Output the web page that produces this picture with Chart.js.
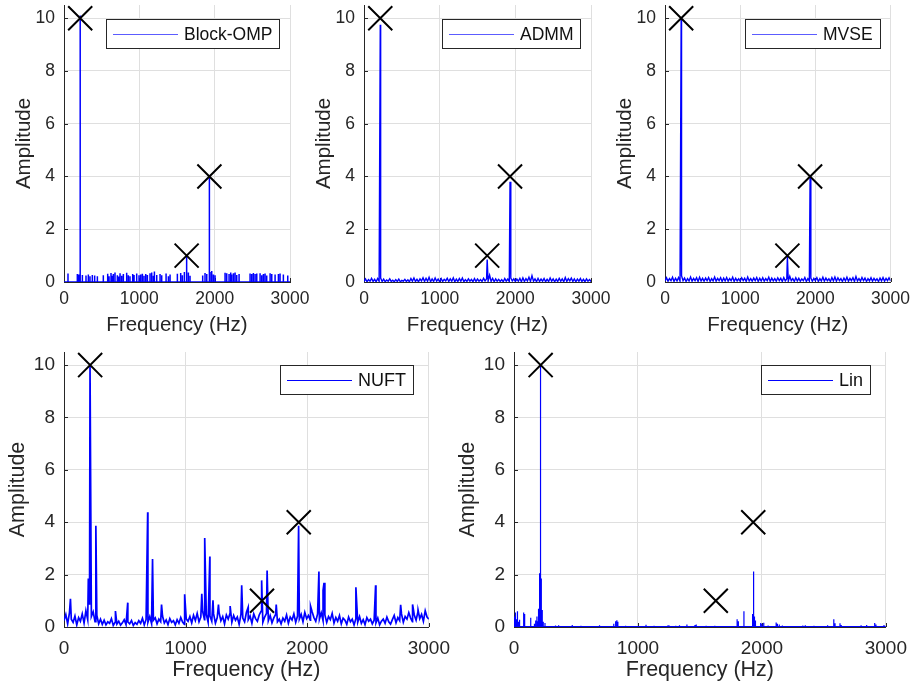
<!DOCTYPE html>
<html>
<head>
<meta charset="utf-8">
<script src="https://cdn.jsdelivr.net/npm/chart.js@4.4.1/dist/chart.umd.min.js"></script>
<style>
  html, body { margin: 0; padding: 0; background: #fff; }
  #wrap { position: relative; width: 917px; height: 693px; overflow: hidden; background: #fff; }
  canvas { position: absolute; }
</style>
</head>
<body>
<div id="wrap">
  <canvas id="cOmp"  width="320" height="340" style="left:0;top:0"></canvas>
  <canvas id="cAdmm" width="320" height="340" style="left:300px;top:0"></canvas>
  <canvas id="cMvse" width="316" height="340" style="left:601px;top:0"></canvas>
  <canvas id="cNuft" width="460" height="353" style="left:0;top:340px"></canvas>
  <canvas id="cLin"  width="467" height="353" style="left:450px;top:340px"></canvas>
</div>
<script>
// true tone positions (black crosses)
const targetHz  = [215, 1628, 1930];
const targetAmp = [10, 1, 4];

// Block-OMP: sparse stems, zero elsewhere
const ompPeakHz  = [215, 1628, 1930];
const ompPeakAmp = [10.1, 1.0, 4.0];
const ompHz = [53, 177, 195, 244, 292, 323, 345, 376, 407, 443,
  522, 580, 598, 624, 642, 655, 677, 708, 726, 744,
  766, 788, 832, 854, 876, 912, 930, 965, 996, 1018,
  1040, 1062, 1085, 1107, 1142, 1164, 1186, 1200, 1231, 1275,
  1297, 1355, 1386, 1408, 1505, 1549, 1571, 1598, 1651, 1673,
  1841, 1872, 1895, 1939, 1961, 1983, 2005, 2138, 2160, 2191,
  2213, 2226, 2249, 2271, 2293, 2324, 2470, 2492, 2514, 2537,
  2559, 2603, 2625, 2647, 2669, 2691, 2736, 2758, 2802, 2846,
  2868, 2912, 2970];
const ompAmp = [0.32, 0.30, 0.28, 0.27, 0.25, 0.28, 0.22, 0.27, 0.25, 0.22,
  0.26, 0.31, 0.22, 0.34, 0.24, 0.30, 0.36, 0.26, 0.21, 0.33,
  0.24, 0.30, 0.35, 0.26, 0.22, 0.30, 0.27, 0.32, 0.26, 0.28,
  0.31, 0.24, 0.30, 0.27, 0.33, 0.36, 0.24, 0.40, 0.27, 0.30,
  0.26, 0.32, 0.22, 0.28, 0.31, 0.34, 0.26, 0.38, 0.36, 0.24,
  0.25, 0.34, 0.30, 0.38, 0.42, 0.28, 0.26, 0.35, 0.33, 0.30,
  0.36, 0.28, 0.33, 0.36, 0.27, 0.30, 0.32, 0.30, 0.34, 0.30,
  0.32, 0.33, 0.26, 0.30, 0.32, 0.25, 0.33, 0.30, 0.28, 0.30,
  0.32, 0.28, 0.25];

// ADMM: noise floor sampled every 20 Hz + peaks
const admmStep = 20;
const admmNoise = [
  0.02, 0.12, 0.01, 0.09, 0.03, 0.14, 0.02, 0.10, 0.01, 0.13,
  0.03, 0.15, 0.02, 0.11, 0.01, 0.08, 0.03, 0.12, 0.02, 0.07,
  0.01, 0.09, 0.02, 0.11, 0.01, 0.06, 0.03, 0.10, 0.02, 0.08,
  0.01, 0.13, 0.03, 0.15, 0.02, 0.10, 0.01, 0.12, 0.04, 0.16,
  0.02, 0.14, 0.03, 0.18, 0.01, 0.12, 0.02, 0.15, 0.03, 0.11,
  0.01, 0.13, 0.02, 0.10, 0.04, 0.14, 0.02, 0.12, 0.03, 0.16,
  0.01, 0.11, 0.02, 0.13, 0.03, 0.15, 0.01, 0.09, 0.02, 0.12,
  0.03, 0.10, 0.01, 0.13, 0.02, 0.11, 0.03, 0.09, 0.02, 0.14,
  0.04, 0.12, 0.03, 0.26, 0.02, 0.14, 0.01, 0.12, 0.03, 0.10,
  0.02, 0.09, 0.01, 0.13, 0.03, 0.11, 0.02, 0.15, 0.04, 0.12,
  0.02, 0.11, 0.03, 0.14, 0.01, 0.16, 0.02, 0.13, 0.04, 0.18,
  0.02, 0.24, 0.03, 0.12, 0.01, 0.14, 0.02, 0.11, 0.03, 0.13,
  0.01, 0.10, 0.02, 0.15, 0.03, 0.12, 0.01, 0.11, 0.02, 0.14,
  0.03, 0.12, 0.01, 0.17, 0.02, 0.13, 0.04, 0.15, 0.02, 0.12,
  0.01, 0.11, 0.03, 0.13, 0.02, 0.10, 0.01, 0.12, 0.03, 0.09,
  0.02];
const admmPeakHz  = [215, 1628, 1930];
const admmPeakAmp = [9.75, 0.85, 3.8];

// MVSE
const mvseStep = 20;
const mvseNoise = [
  0.04, 0.16, 0.03, 0.13, 0.05, 0.18, 0.02, 0.14, 0.04, 0.17,
  0.03, 0.24, 0.05, 0.15, 0.02, 0.13, 0.04, 0.19, 0.03, 0.14,
  0.05, 0.16, 0.02, 0.18, 0.04, 0.14, 0.03, 0.15, 0.05, 0.17,
  0.02, 0.13, 0.04, 0.19, 0.03, 0.14, 0.05, 0.16, 0.02, 0.15,
  0.04, 0.17, 0.03, 0.13, 0.05, 0.18, 0.02, 0.14, 0.04, 0.12,
  0.03, 0.16, 0.05, 0.14, 0.02, 0.19, 0.04, 0.13, 0.03, 0.15,
  0.05, 0.17, 0.02, 0.14, 0.04, 0.16, 0.03, 0.13, 0.05, 0.18,
  0.02, 0.15, 0.04, 0.13, 0.03, 0.16, 0.05, 0.14, 0.02, 0.17,
  0.04, 0.12, 0.03, 0.22, 0.05, 0.13, 0.02, 0.16, 0.04, 0.14,
  0.03, 0.12, 0.05, 0.17, 0.02, 0.13, 0.04, 0.15, 0.03, 0.14,
  0.05, 0.16, 0.02, 0.13, 0.04, 0.18, 0.03, 0.15, 0.05, 0.12,
  0.02, 0.17, 0.04, 0.19, 0.03, 0.16, 0.05, 0.13, 0.02, 0.15,
  0.04, 0.18, 0.03, 0.14, 0.05, 0.16, 0.02, 0.21, 0.04, 0.13,
  0.03, 0.17, 0.05, 0.15, 0.02, 0.13, 0.04, 0.16, 0.03, 0.14,
  0.05, 0.12, 0.02, 0.15, 0.04, 0.17, 0.03, 0.14, 0.05, 0.16,
  0.04];
const mvsePeakHz  = [215, 1628, 1930];
const mvsePeakAmp = [10.0, 0.95, 4.0];

// NUFT: noisy floor every 15 Hz + many spurious spikes
const nuftStep = 15;
const nuftNoise = [
  0.25, 0.48, 0.12, 0.55, 0.30, 0.18, 0.42, 0.08, 0.36, 0.22,
  0.50, 0.15, 0.62, 0.28, 0.85, 0.40, 0.58, 0.20, 0.45, 0.12,
  0.30, 0.10, 0.26, 0.08, 0.20, 0.14, 0.32, 0.06, 0.18, 0.11,
  0.22, 0.07, 0.16, 0.28, 0.09, 0.19, 0.12, 0.25, 0.06, 0.17,
  0.10, 0.24, 0.14, 0.33, 0.08, 0.29, 0.18, 0.40, 0.13, 0.26,
  0.35, 0.12, 0.30, 0.20, 0.42, 0.15, 0.27, 0.09, 0.32, 0.18,
  0.24, 0.08, 0.28, 0.14, 0.36, 0.19, 0.10, 0.31, 0.22, 0.40,
  0.16, 0.45, 0.25, 0.52, 0.20, 0.38, 0.60, 0.28, 0.48, 0.18,
  0.42, 0.22, 0.50, 0.15, 0.36, 0.55, 0.24, 0.40, 0.12, 0.46,
  0.30, 0.52, 0.18, 0.44, 0.26, 0.38, 0.10, 0.48, 0.34, 0.20,
  0.56, 0.28, 0.42, 0.14, 0.50, 0.32, 0.22, 0.46, 0.60, 0.18,
  0.38, 0.52, 0.24, 0.44, 0.16, 0.35, 0.48, 0.20, 0.30, 0.12,
  0.34, 0.22, 0.46, 0.14, 0.38, 0.27, 0.50, 0.18, 0.42, 0.30,
  0.48, 0.20, 0.56, 0.32, 0.44, 0.26, 0.58, 0.36, 0.22, 0.50,
  0.30, 0.54, 0.24, 0.46, 0.18, 0.40, 0.28, 0.52, 0.15, 0.36,
  0.22, 0.44, 0.12, 0.34, 0.26, 0.10, 0.38, 0.20, 0.30, 0.08,
  0.32, 0.18, 0.40, 0.14, 0.28, 0.09, 0.36, 0.22, 0.30, 0.12,
  0.26, 0.16, 0.34, 0.08, 0.22, 0.30, 0.14, 0.38, 0.20, 0.11,
  0.28, 0.44, 0.16, 0.36, 0.24, 0.50, 0.18, 0.40, 0.30, 0.55,
  0.34, 0.20, 0.46, 0.26, 0.58, 0.32, 0.48, 0.22, 0.62, 0.38,
  0.30];
const nuftHz = [53, 200, 214, 262, 423, 524, 688, 728, 802, 992,
  1133, 1157, 1199, 1225, 1270, 1366, 1461, 1514, 1625, 1670,
  1745, 1929, 2027, 2096, 2130, 2138, 2400, 2562, 2768, 2866,
  2911];
const nuftAmp = [1.08, 1.85, 10.0, 3.87, 0.61, 0.93, 4.38, 2.60, 0.86, 1.25,
  1.27, 3.40, 2.69, 1.02, 0.86, 0.80, 1.59, 0.75, 1.78, 2.16,
  0.86, 3.87, 0.80, 2.12, 1.40, 1.69, 1.52, 1.59, 0.85, 0.86,
  0.65];

// Lin: near-flat floor with a few leaks
const linFloor = 0.02;
const linHz = [5, 12, 20, 28, 36, 45, 78, 86, 135, 165,
  175, 185, 192, 198, 204, 208, 214, 218, 222, 228,
  236, 250, 335, 360, 470, 540, 600, 690, 805, 820,
  830, 838, 900, 1000, 1065, 1130, 1240, 1250, 1305, 1335,
  1395, 1460, 1470, 1550, 1620, 1700, 1800, 1810, 1855, 1925,
  1930, 1935, 1940, 1948, 1990, 2000, 2015, 2050, 2115, 2125,
  2140, 2165, 2330, 2350, 2420, 2530, 2580, 2590, 2630, 2640,
  2800, 2845, 2910, 2920, 2985];
const linAmp = [0.40, 0.55, 0.30, 0.60, 0.20, 0.28, 0.55, 0.50, 0.35, 0.12,
  0.25, 0.40, 0.22, 0.70, 1.00, 2.05, 10.0, 1.85, 1.00, 0.65,
  0.20, 0.15, 0.06, 0.07, 0.08, 0.05, 0.04, 0.07, 0.12, 0.22,
  0.26, 0.20, 0.05, 0.04, 0.09, 0.05, 0.06, 0.07, 0.05, 0.07,
  0.10, 0.08, 0.10, 0.05, 0.05, 0.04, 0.30, 0.22, 0.60, 0.50,
  2.12, 1.10, 0.40, 0.25, 0.15, 0.12, 0.16, 0.06, 0.17, 0.12,
  0.10, 0.06, 0.06, 0.07, 0.05, 0.07, 0.30, 0.14, 0.14, 0.08,
  0.07, 0.08, 0.15, 0.10, 0.08];

const FONT = '"Liberation Sans", Arial, Helvetica, sans-serif';
const TXT = '#262626';
const GRID = '#dfdfdf';
Chart.defaults.font.family = FONT;
Chart.defaults.color = TXT;

// 采样网格上的噪声点
function gridSeries(values, step) {
  return values.map((v, i) => ({ x: i * step, y: v }));
}

// 噪声 + 尖峰, 按频率排序
function withSpikes(base, hz, amp) {
  return base.concat(hz.map((f, i) => ({ x: f, y: amp[i] }))).sort((a, b) => a.x - b.x);
}

// 竖线谱 (stem)
function stems(hz, amp, floor) {
  const pairs = hz.map((f, i) => [f, amp[i]]).sort((a, b) => a[0] - b[0]);
  const pts = [{ x: 0, y: floor }];
  pairs.forEach(([f, a]) => {
    pts.push({ x: f, y: floor }, { x: f, y: a }, { x: f, y: floor });
  });
  pts.push({ x: 3000, y: floor });
  return pts;
}

// 图例框 (画在坐标区内右上角)
const boxLegend = {
  id: 'boxLegend',
  afterDatasetsDraw(chart, args, opts) {
    const { ctx, chartArea } = chart;
    ctx.save();
    ctx.font = opts.size + 'px ' + FONT;
    const tw = ctx.measureText(opts.text).width;
    const w = Math.round(7 + 65 + 6 + tw + 8), h = 30;
    const x = Math.round(chartArea.right - opts.right - w);
    const y = Math.round(chartArea.top + opts.top);
    ctx.fillStyle = '#fff';
    ctx.fillRect(x, y, w, h);
    ctx.strokeStyle = '#262626';
    ctx.lineWidth = 1;
    ctx.strokeRect(x + 0.5, y + 0.5, w - 1, h - 1);
    ctx.strokeStyle = opts.lineColor;
    ctx.beginPath();
    ctx.moveTo(x + 7, y + h / 2 + 0.5);
    ctx.lineTo(x + 72, y + h / 2 + 0.5);
    ctx.stroke();
    ctx.fillStyle = '#111';
    ctx.textBaseline = 'middle';
    ctx.fillText(opts.text, x + 78, y + h / 2 + 1);
    ctx.restore();
  }
};

// MATLAB 风格内刻度
const innerTicks = {
  id: 'innerTicks',
  beforeDatasetsDraw(chart) {
    const { ctx, chartArea, scales } = chart;
    ctx.save();
    ctx.strokeStyle = TXT;
    ctx.lineWidth = 1;
    ctx.beginPath();
    scales.x.ticks.forEach(t => {
      const px = Math.round(scales.x.getPixelForValue(t.value)) + 0.5;
      ctx.moveTo(px, chartArea.bottom);
      ctx.lineTo(px, chartArea.bottom - 4);
    });
    scales.y.ticks.forEach(t => {
      const py = Math.round(scales.y.getPixelForValue(t.value)) + 0.5;
      ctx.moveTo(chartArea.left, py);
      ctx.lineTo(chartArea.left + 4, py);
    });
    ctx.stroke();
    ctx.restore();
  }
};

const topGeom = { padTop: 5, xAxisH: 58, tick: 17.5, title: 20.5, xTickPad: 7, xTitlePad: 2, yTitlePad: 12,
                  legSize: 17.5, legTop: 14, legRight: 10, legColor: '#5c5cff' };
const botGeom = { padTop: 12, xAxisH: 66, tick: 19, title: 21.5, xTickPad: 10, xTitlePad: 10, yTitlePad: 5,
                  legSize: 18, legTop: 13, legRight: 15, legColor: '#0000ff' };

function makeChart(id, points, label, g, padRight, lineWidth) {
  const markers = targetHz.map((f, i) => ({ x: f, y: targetAmp[i] }));
  return new Chart(document.getElementById(id), {
    type: 'line',
    data: {
      datasets: [
        {
          data: markers,
          showLine: false,
          pointStyle: 'crossRot',
          pointRadius: 17,
          pointBorderWidth: 2,
          borderColor: '#000',
          backgroundColor: '#000',
          clip: false
        },
        {
          data: points,
          borderColor: '#0000ff',
          borderWidth: lineWidth,
          pointRadius: 0,
          tension: 0,
          fill: false
        }
      ]
    },
    options: {
      responsive: false,
      animation: false,
      events: [],
      layout: { autoPadding: false, padding: { top: g.padTop, right: padRight, bottom: 0, left: 0 } },
      plugins: {
        legend: { display: false },
        tooltip: { enabled: false },
        boxLegend: { text: label, size: g.legSize, top: g.legTop, right: g.legRight, lineColor: g.legColor }
      },
      scales: {
        x: {
          type: 'linear',
          min: 0,
          max: 3000,
          ticks: {
            stepSize: 1000,
            includeBounds: false,
            maxRotation: 0,
            autoSkip: false,
            padding: g.xTickPad,
            color: TXT,
            font: { size: g.tick },
            callback: v => String(v)
          },
          grid: { color: GRID, drawTicks: false },
          border: { color: TXT, width: 1 },
          title: {
            display: true,
            text: 'Frequency (Hz)',
            color: TXT,
            font: { size: g.title },
            padding: { top: 0, bottom: g.xTitlePad }
          },
          afterFit: s => { s.height = g.xAxisH; }
        },
        y: {
          min: 0,
          max: 10.5,
          ticks: {
            stepSize: 2,
            includeBounds: false,
            padding: 9,
            color: TXT,
            font: { size: g.tick }
          },
          grid: { color: GRID, drawTicks: false },
          border: { color: TXT, width: 1 },
          title: {
            display: true,
            text: 'Amplitude',
            color: TXT,
            font: { size: g.title },
            padding: { top: g.yTitlePad, bottom: 0 }
          },
          afterFit: s => {
            s.width = 64;
            s.paddingTop = 0;
            s.paddingBottom = 0;
          }
        }
      }
    },
    plugins: [innerTicks, boxLegend]
  });
}

makeChart('cOmp', stems(ompHz.concat(ompPeakHz), ompAmp.concat(ompPeakAmp), 0), 'Block-OMP', topGeom, 30, 1.5);
makeChart('cAdmm', withSpikes(gridSeries(admmNoise, admmStep), admmPeakHz, admmPeakAmp), 'ADMM', topGeom, 29, 1.4);
makeChart('cMvse', withSpikes(gridSeries(mvseNoise, mvseStep), mvsePeakHz, mvsePeakAmp), 'MVSE', topGeom, 25, 1.4);
makeChart('cNuft', withSpikes(gridSeries(nuftNoise, nuftStep), nuftHz, nuftAmp), 'NUFT', botGeom, 18, 1.7);
makeChart('cLin', stems(linHz, linAmp, linFloor), 'Lin', botGeom, 25, 1.2);
</script>
</body>
</html>
